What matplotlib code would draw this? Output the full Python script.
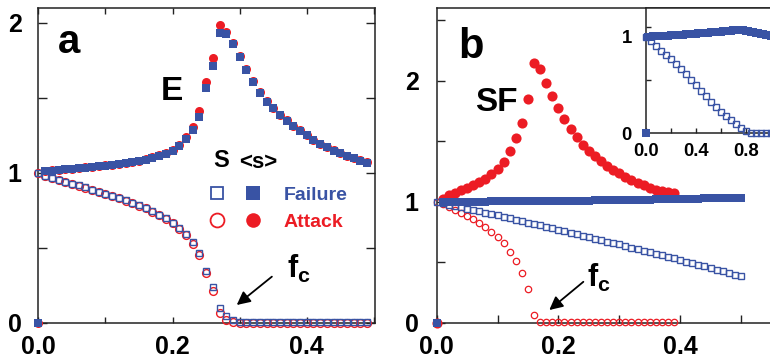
import numpy as np
import matplotlib
matplotlib.use('Agg')
import matplotlib.pyplot as plt
from matplotlib.lines import Line2D
from matplotlib.legend_handler import HandlerTuple

plt.rcParams['font.family'] = ['Liberation Sans', 'DejaVu Sans']
plt.rcParams['font.weight'] = 'bold'
plt.rcParams['mathtext.fontset'] = 'custom'
plt.rcParams['mathtext.bf'] = 'Liberation Sans:bold'
plt.rcParams['mathtext.rm'] = 'Liberation Sans:bold'
plt.rcParams['mathtext.it'] = 'Liberation Sans:bold'

BLUE = '#3953a4'
RED = '#ec1c24'

# ---------------- data: panel a (exponential network) ----------------
f_a = np.round(np.arange(0, 0.495, 0.01), 2)          # 0.00 .. 0.49
S_fail_a = [1.000, 0.981, 0.968, 0.955, 0.943, 0.930, 0.917, 0.904, 0.890, 0.876,
            0.862, 0.848, 0.833, 0.818, 0.802, 0.785, 0.766, 0.745, 0.722, 0.697,
            0.668, 0.633, 0.592, 0.540, 0.464, 0.350, 0.242, 0.098, 0.045, 0.022,
            0.010] + [0.006] * 19
S_att_a = [1.000, 0.979, 0.966, 0.953, 0.941, 0.928, 0.915, 0.902, 0.888, 0.874,
           0.860, 0.846, 0.831, 0.816, 0.800, 0.783, 0.764, 0.743, 0.720, 0.694,
           0.665, 0.628, 0.585, 0.528, 0.452, 0.331, 0.215, 0.069, 0.020, 0.005] + [0.0] * 20
s_fail_a = [0.0, 1.012, 1.016, 1.020, 1.024, 1.027, 1.031, 1.035, 1.040, 1.044,
            1.049, 1.054, 1.060, 1.066, 1.072, 1.080, 1.090, 1.100, 1.113, 1.128,
            1.147, 1.178, 1.225, 1.287, 1.376, 1.564, 1.716, 1.931, 1.924, 1.860,
            1.771, 1.687, 1.609, 1.536, 1.476, 1.431, 1.387, 1.349, 1.313, 1.282,
            1.253, 1.220, 1.193, 1.171, 1.149, 1.131, 1.113, 1.098, 1.082, 1.069]
s_att_a = [0.0, 1.014, 1.018, 1.022, 1.026, 1.029, 1.033, 1.037, 1.042, 1.046,
           1.051, 1.056, 1.062, 1.068, 1.075, 1.083, 1.093, 1.104, 1.118, 1.134,
           1.155, 1.190, 1.240, 1.305, 1.413, 1.609, 1.764, 1.987, 1.942, 1.870,
           1.778, 1.692, 1.613, 1.540, 1.480, 1.434, 1.390, 1.352, 1.316, 1.285,
           1.256, 1.223, 1.196, 1.173, 1.151, 1.133, 1.115, 1.100, 1.084, 1.071]

# ---------------- data: panel b (scale-free network) ----------------
f_b_fail = np.round(np.arange(0, 0.505, 0.01), 2)     # 0.00 .. 0.50
f_b_att = np.round(np.arange(0, 0.395, 0.01), 2)      # 0.00 .. 0.39
S_fail_b = [1.000, 0.989, 0.978, 0.967, 0.956, 0.944, 0.933, 0.922, 0.910, 0.899,
            0.888, 0.876, 0.864, 0.853, 0.841, 0.829, 0.818, 0.806, 0.794, 0.782,
            0.770, 0.758, 0.746, 0.734, 0.722, 0.709, 0.697, 0.684, 0.672, 0.660,
            0.648, 0.635, 0.622, 0.610, 0.597, 0.584, 0.572, 0.559, 0.546, 0.533,
            0.520, 0.507, 0.494, 0.480, 0.467, 0.454, 0.441, 0.428, 0.414, 0.400,
            0.388]
s_fail_b = [0.0, 1.000, 1.000, 1.001, 1.001, 1.001, 1.002, 1.002, 1.002, 1.003,
            1.003, 1.003, 1.004, 1.004, 1.005, 1.005, 1.006, 1.006, 1.007, 1.008,
            1.008, 1.009, 1.009, 1.010, 1.011, 1.011, 1.012, 1.013, 1.014, 1.014,
            1.015, 1.016, 1.017, 1.018, 1.018, 1.019, 1.020, 1.021, 1.022, 1.023,
            1.024, 1.025, 1.026, 1.027, 1.028, 1.029, 1.030, 1.032, 1.033, 1.034,
            1.035]
S_att_b = [1.000, 0.979, 0.957, 0.936, 0.911, 0.883, 0.856, 0.826, 0.793, 0.752,
           0.711, 0.661, 0.587, 0.510, 0.414, 0.277, 0.069, 0.011] + [0.008] * 22
s_att_b = [0.0, 1.026, 1.053, 1.073, 1.095, 1.117, 1.136, 1.163, 1.191, 1.226,
           1.267, 1.328, 1.418, 1.525, 1.652, 1.849, 2.143, 2.096, 1.978, 1.877,
           1.775, 1.684, 1.602, 1.534, 1.473, 1.420, 1.375, 1.340, 1.300, 1.265,
           1.235, 1.205, 1.180, 1.155, 1.135, 1.115, 1.100, 1.090, 1.080, 1.075]

# ---------------- data: inset (scale-free failure up to f = 1) ----------------
f_in_S = np.round(np.arange(0, 1.001, 0.04), 2)
S_in = [1.000, 0.954, 0.906, 0.857, 0.812, 0.768, 0.720, 0.668, 0.615, 0.558,
        0.500, 0.441, 0.382, 0.327, 0.275, 0.224, 0.180, 0.134, 0.093, 0.050,
        0.020, 0.004, 0.0, 0.0, 0.0, 0.0]
f_in_s = np.round(np.arange(0, 1.001, 0.02), 2)
s_in = [0.0, 1.001, 1.003, 1.005, 1.007, 1.008, 1.010, 1.011, 1.012, 1.014,
        1.015, 1.016, 1.018, 1.020, 1.022, 1.024, 1.026, 1.028, 1.030, 1.032,
        1.034, 1.036, 1.038, 1.040, 1.042, 1.044, 1.046, 1.048, 1.050, 1.052,
        1.055, 1.058, 1.061, 1.064, 1.066, 1.068, 1.069, 1.070, 1.070, 1.068,
        1.065, 1.060, 1.055, 1.050, 1.044, 1.038, 1.032, 1.027, 1.022, 1.017,
        1.012]

# ---------------- ticks / labels ----------------
xticks_main = [0.0, 0.1, 0.2, 0.3, 0.4, 0.5]
xlabels_main = ['0.0', '', '0.2', '', '0.4', '']
yticks_a = [0, 0.5, 1, 1.5, 2]
ylabels_a = ['0', '', '1', '', '2']
yticks_b = [0, 0.5, 1, 1.5, 2, 2.5]
ylabels_b = ['0', '', '1', '', '2', '']
xticks_in = [0.0, 0.2, 0.4, 0.6, 0.8, 1.0]
xlabels_in = ['0.0', '', '0.4', '', '0.8', '']
yticks_in = [0, 1]
ylabels_in = ['0', '1']
yminor_in = [0.55, 1.1]
legend_labels = ['Failure', 'Attack']

W, H = 770, 361
fig = plt.figure(figsize=(W / 100, H / 100), dpi=100)

ax_a = fig.add_axes([38.4 / W, 1 - 323 / H, 336.6 / W, 315 / H])
ax_b = fig.add_axes([436.7 / W, 1 - 323 / H, 0.56 * 608.5 / W, 315 / H])
ax_in = fig.add_axes([645.7 / W, 1 - 133.3 / H, 1.05 * 125 / W, 125.3 / H])

def style(ax, fs, pad_x, pad_y, lx, ly):
    for s in ax.spines.values():
        s.set_linewidth(1.1)
        s.set_color('#222222')
    ax.tick_params(axis='x', direction='in', length=lx, width=1.0, pad=pad_x,
                   labelsize=fs, color='#222222')
    ax.tick_params(axis='y', direction='in', length=ly, width=1.0, pad=pad_y,
                   labelsize=fs, color='#222222')
    for lab in ax.get_xticklabels() + ax.get_yticklabels():
        lab.set_fontweight('bold')

kw = dict(ls='none', clip_on=False, zorder=3)

# ---- panel a ----
ax_a.plot(f_a, S_att_a, marker='o', ms=5.6, mfc='none', mec=RED, mew=1.0, **kw)
ax_a.plot(f_a, S_fail_a, marker='s', ms=4.9, mfc='none', mec=BLUE, mew=1.0, **kw)
ax_a.plot(f_a, s_att_a, marker='o', ms=6.5, color=RED, mew=0, **kw)
ax_a.plot(f_a, s_fail_a, marker='s', ms=5.9, color=BLUE, mew=0, **kw)
ax_a.set_xlim(0, 0.5017)
ax_a.set_ylim(0, 2.1)
ax_a.set_xticks(xticks_main)
ax_a.set_xticklabels(xlabels_main)
ax_a.set_yticks(yticks_a)
ax_a.set_yticklabels(ylabels_a)
ax_a.tick_params(top=True, right=True)
style(ax_a, 18, 8.5, 12, 4.3, 6.8)

ax_a.text(0.029, 1.80, 'a', fontsize=29, fontweight='bold', ha='left', va='baseline')
ax_a.text(0.183, 1.487, 'E', fontsize=24, fontweight='bold', ha='left', va='baseline')
ax_a.text(0.260, 1.042, 'S', fontsize=17, fontweight='bold', ha='left', va='baseline')
ax_a.text(0.2995, 1.035, '<s>', fontsize=16, fontweight='bold', ha='left', va='baseline')
ax_a.text(0.370, 0.298, r'$\mathbf{f_c}$', fontsize=22, ha='left', va='baseline')
ax_a.annotate('', xy=(0.2956, 0.12), xytext=(0.348, 0.309),
              arrowprops=dict(arrowstyle='-|>', color='black', lw=1.3,
                              mutation_scale=20, shrinkA=0, shrinkB=0))

h_fail = (Line2D([], [], ls='none', marker='s', mfc='none', mec=BLUE, ms=8.3, mew=1.3),
          Line2D([], [], ls='none', marker='s', color=BLUE, ms=9.5, mew=0))
h_att = (Line2D([], [], ls='none', marker='o', mfc='none', mec=RED, ms=10, mew=1.3),
         Line2D([], [], ls='none', marker='o', color=RED, ms=10.5, mew=0))
leg = ax_a.legend([h_fail, h_att], legend_labels,
                  handler_map={tuple: HandlerTuple(ndivide=None, pad=0)},
                  handlelength=3.78, handletextpad=0.6, fontsize=14,
                  frameon=False, loc='center left', bbox_to_anchor=(0.475, 0.364),
                  borderpad=0, borderaxespad=0, labelspacing=0.47, numpoints=1)
for t, c in zip(leg.get_texts(), [BLUE, RED]):
    t.set_color(c)
    t.set_fontweight('bold')

# ---- panel b ----
ax_b.plot(f_b_att, S_att_b, marker='o', ms=4.6, mfc='none', mec=RED, mew=0.9, **kw)
ax_b.plot(f_b_fail, S_fail_b, marker='s', ms=4.2, mfc='none', mec=BLUE, mew=1.0, **kw)
ax_b.plot(f_b_att, s_att_b, marker='o', ms=7.3, color=RED, mew=0, **kw)
ax_b.plot(f_b_fail, s_fail_b, marker='s', ms=6.4, color=BLUE, mew=0, **kw)
ax_b.set_xlim(0, 0.56)
ax_b.set_ylim(0, 2.6)
ax_b.set_xticks(xticks_main)
ax_b.set_xticklabels(xlabels_main)
ax_b.set_yticks(yticks_b)
ax_b.set_yticklabels(ylabels_b)
style(ax_b, 18, 8.5, 13, 5.5, 6.0)

ax_b.text(0.035, 2.19, 'b', fontsize=30, fontweight='bold', ha='left', va='baseline')
ax_b.text(0.063, 1.753, 'SF', fontsize=24, fontweight='bold', ha='left', va='baseline')
ax_b.text(0.2465, 0.299, r'$\mathbf{f_c}$', fontsize=22, ha='left', va='baseline')
ax_b.annotate('', xy=(0.185, 0.107), xytext=(0.241, 0.34),
              arrowprops=dict(arrowstyle='-|>', color='black', lw=1.3,
                              mutation_scale=20, shrinkA=0, shrinkB=0))

# ---- inset ----
ax_in.set_facecolor('white')
ax_in.plot(f_in_S, S_in, marker='s', ms=4.2, mfc='none', mec=BLUE, mew=1.0, **kw)
ax_in.plot(f_in_s, s_in, marker='s', ms=5.5, color=BLUE, mew=0, **kw)
ax_in.set_xlim(0, 1.05)
ax_in.set_ylim(0, 1.3)
ax_in.set_xticks(xticks_in)
ax_in.set_xticklabels(xlabels_in)
ax_in.set_yticks(yticks_in)
ax_in.set_yticklabels(ylabels_in)
ax_in.set_yticks(yminor_in, minor=True)
style(ax_in, 13.3, 7, 10, 3.5, 0)
ax_in.tick_params(axis='y', which='minor', direction='in', length=3.5, width=1.0, color='#222222')

fig.savefig('out.png', dpi=100)
